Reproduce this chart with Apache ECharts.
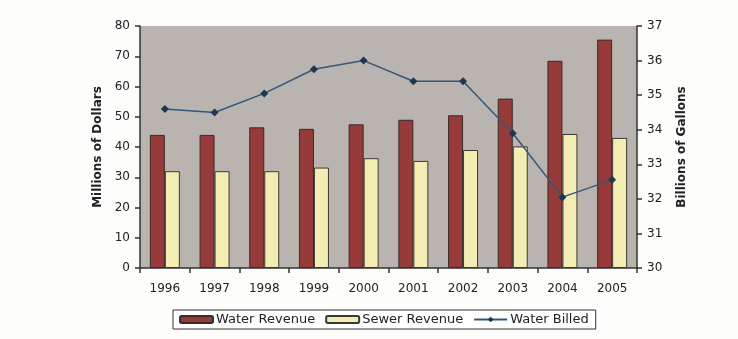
<!DOCTYPE html>
<html><head><meta charset="utf-8">
<script src="https://cdn.jsdelivr.net/npm/echarts@6/dist/echarts.min.js"></script>
<style>html,body{margin:0;padding:0;background:#fff;}#c{width:738px;height:339px;}</style>
</head><body><div id="c"></div>
<script>
var years = ['1996','1997','1998','1999','2000','2001','2002','2003','2004','2005'];
var waterRevenue = [44, 44, 46.5, 46, 47.5, 49, 50.5, 56, 68.5, 75.5];
var sewerRevenue = [32, 32, 32, 33.2, 36.3, 35.4, 39, 40.2, 44.3, 43];
var waterBilled = [34.6, 34.5, 35.05, 35.75, 36.0, 35.4, 35.4, 33.9, 32.05, 32.55];

var FF = 'DejaVu Sans, Verdana, sans-serif';
var chart = echarts.init(document.getElementById('c'), null, {renderer:'canvas'});
var txt = {color:'#222', fontFamily:FF, fontSize:12};
chart.setOption({
  animation:false,
  backgroundColor:'#fdfdfc',
  textStyle:{fontFamily:FF},
  grid:{left:140, right:101, top:26, bottom:71, show:true, backgroundColor:'#bab4b0', borderWidth:0},
  legend:{
    left:173, top:310, padding:[3,7,3,6], itemGap:10, itemWidth:33, itemHeight:7,
    borderColor:'#333', borderWidth:1, backgroundColor:'#fff',
    textStyle:{color:'#222', fontSize:13, fontFamily:FF, padding:[0,0,0,-2]},
    data:[{name:'Water Revenue'},{name:'Sewer Revenue'},{name:'Water Billed'}]
  },
  xAxis:{
    type:'category', data:years, boundaryGap:true,
    axisLine:{lineStyle:{color:'#333', width:1.5}},
    axisTick:{show:true, interval:0, length:5, lineStyle:{color:'#333', width:1.5}},
    axisLabel:Object.assign({margin:15, interval:0}, txt)
  },
  yAxis:[
    {type:'value', min:0, max:80, interval:10, position:'left',
     name:'Millions of Dollars', nameLocation:'middle', nameGap:36, nameRotate:90,
     nameTextStyle:{color:'#222', fontWeight:'bold', fontSize:12, fontFamily:FF},
     axisLine:{show:true, lineStyle:{color:'#333', width:1.5}},
     axisTick:{show:true, length:5, lineStyle:{color:'#333', width:1.5}},
     axisLabel:Object.assign({margin:10}, txt),
     splitLine:{show:false}},
    {type:'value', min:30, max:37, interval:1, position:'right',
     name:'Billions of Gallons', nameLocation:'middle', nameGap:39, nameRotate:90,
     nameTextStyle:{color:'#222', fontWeight:'bold', fontSize:12, fontFamily:FF},
     axisLine:{show:true, lineStyle:{color:'#333', width:1.5}},
     axisTick:{show:true, length:5, lineStyle:{color:'#333', width:1.5}},
     axisLabel:Object.assign({margin:10}, txt),
     splitLine:{show:false}}
  ],
  series:[
    {name:'Water Revenue', type:'bar', data:waterRevenue, barWidth:15, barGap:'0%',
     itemStyle:{color:'#963a3a', borderColor:'#3a2a28', borderWidth:1}},
    {name:'Sewer Revenue', type:'bar', data:sewerRevenue, barWidth:15, barGap:'0%',
     itemStyle:{color:'#f3edb4', borderColor:'#3a3a30', borderWidth:1}},
    {name:'Water Billed', type:'line', yAxisIndex:1, data:waterBilled,
     symbol:'diamond', symbolSize:8, z:5,
     lineStyle:{color:'#34567a', width:1.5},
     itemStyle:{color:'#1f3550'}}
  ]
});
</script></body></html>
